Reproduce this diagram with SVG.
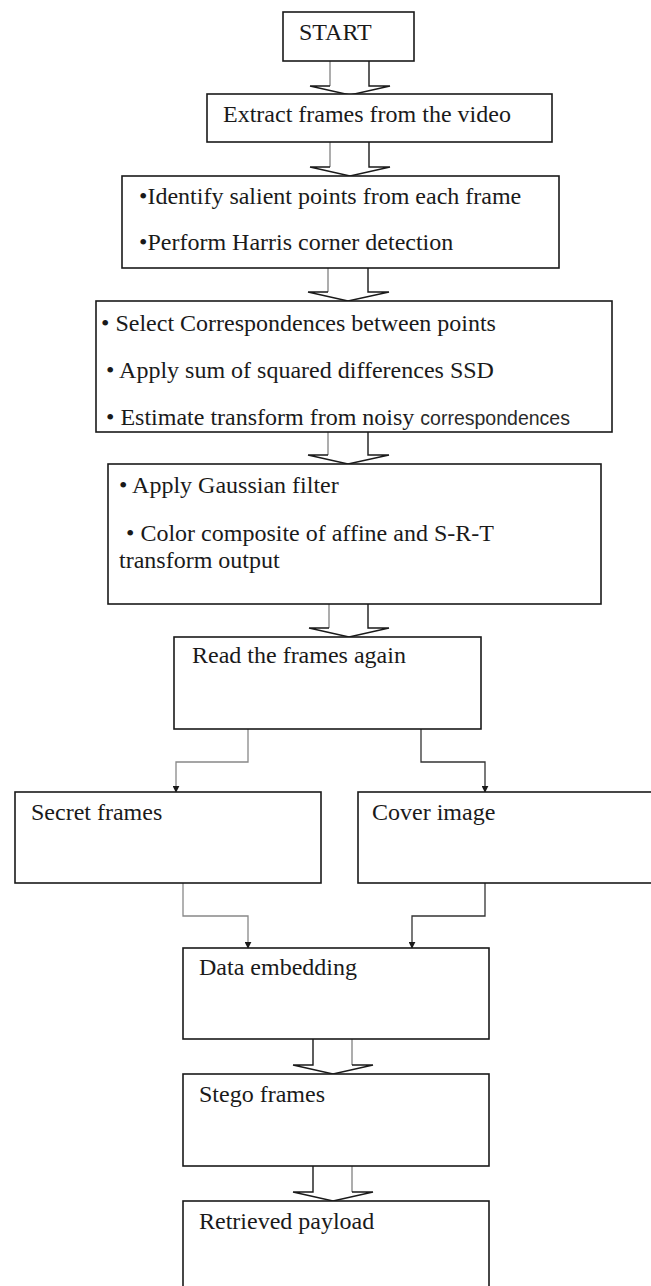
<svg xmlns="http://www.w3.org/2000/svg" width="651" height="1286" viewBox="0 0 651 1286">
<defs>
<style>
.box{fill:#fff;stroke:#1a1a1a;stroke-width:1.6}
.t{font-family:"Liberation Serif","Times New Roman",serif;font-size:24px;fill:#1a1a1a}
.s{font-family:"Liberation Sans",Arial,sans-serif;font-size:19.5px;fill:#2a2a2a}
.dk{fill:none;stroke:#1a1a1a;stroke-width:1.4}
.lt{fill:none;stroke:#8a8a8a;stroke-width:1.4}
.cn{fill:none;stroke:#333;stroke-width:1.3}
.cg{fill:none;stroke:#888;stroke-width:1.3}
</style>
<marker id="ah" viewBox="0 0 10 10" refX="9" refY="5" markerWidth="7" markerHeight="7" orient="auto" markerUnits="userSpaceOnUse">
<path d="M0,0 L10,5 L0,10 z" fill="#1a1a1a"/>
</marker>
</defs>
<rect width="651" height="1286" fill="#fff"/>

<g id="connectors">
<!-- block arrows -->
<g id="a1"><path class="lt" d="M330,61 V86"/><path class="dk" d="M369,61 V86 L390,86 L350,95 L310,86 L330,86"/></g>
<g id="a2"><path class="lt" d="M330,142 V167"/><path class="dk" d="M369,142 V167 L390,167 L350,176 L310,167 L330,167"/></g>
<g id="a3"><path class="lt" d="M328,268 V292"/><path class="dk" d="M368,268 V292 L389,292 L348,301 L308,292 L328,292"/></g>
<g id="a4"><path class="lt" d="M328,432 V455"/><path class="dk" d="M368,432 V455 L389,455 L348,464 L308,455 L328,455"/></g>
<g id="a5"><path class="lt" d="M329,604 V628"/><path class="dk" d="M368,604 V628 L389,628 L349,637 L309,628 L329,628"/></g>
<g id="a6"><path class="lt" d="M352,1039 V1065"/><path class="dk" d="M313,1039 V1065 L293,1065 L333,1074 L373,1065 L352,1065"/></g>
<g id="a7"><path class="lt" d="M352,1166 V1192"/><path class="dk" d="M313,1166 V1192 L293,1192 L333,1201 L373,1192 L352,1192"/></g>
<!-- elbow connectors -->
<path class="cg" d="M248,729 V762 H176 V792" marker-end="url(#ah)"/>
<path class="cn" d="M421,729 V762 H485 V792" marker-end="url(#ah)"/>
<path class="cg" d="M183,883 V916 H248 V948" marker-end="url(#ah)"/>
<path class="cn" d="M485,883 V916 H412 V948" marker-end="url(#ah)"/>
</g>

<g id="start"><rect class="box" x="283" y="12" width="131" height="49"/><text class="t" x="299" y="40">START</text></g>
<g id="extract"><rect class="box" x="207" y="94" width="345" height="48"/><text class="t" x="223" y="122">Extract frames from the video</text></g>
<g id="identify"><rect class="box" x="122" y="176" width="437" height="92"/>
<text class="t" x="139" y="204">•Identify salient points from each frame</text>
<text class="t" x="139" y="250">•Perform Harris corner detection</text></g>
<g id="correspond"><rect class="box" x="96" y="301" width="516" height="131"/>
<text class="t" x="101" y="331">• Select Correspondences between points</text>
<text class="t" x="106" y="378">• Apply sum of squared differences SSD</text>
<text class="t" x="106" y="425">• Estimate transform from noisy <tspan class="s">correspondences</tspan></text></g>
<g id="gaussian"><rect class="box" x="108" y="464" width="493" height="140"/>
<text class="t" x="119" y="493">• Apply Gaussian filter</text>
<text class="t" x="126" y="541">• Color composite of affine and S-R-T</text>
<text class="t" x="119" y="568">transform output</text></g>
<g id="read"><rect class="box" x="174" y="637" width="307" height="92"/><text class="t" x="192" y="663">Read the frames again</text></g>
<g id="secret"><rect class="box" x="15" y="792" width="306" height="91"/><text class="t" x="31" y="820">Secret frames</text></g>
<g id="cover"><rect class="box" x="358" y="792" width="300" height="91"/><text class="t" x="372" y="820">Cover image</text></g>
<g id="data"><rect class="box" x="183" y="948" width="306" height="91"/><text class="t" x="199" y="975">Data embedding</text></g>
<g id="stego"><rect class="box" x="183" y="1074" width="306" height="92"/><text class="t" x="199" y="1102">Stego frames</text></g>
<g id="retrieved"><rect class="box" x="183" y="1201" width="306" height="100"/><text class="t" x="199" y="1229">Retrieved payload</text></g>
</svg>
